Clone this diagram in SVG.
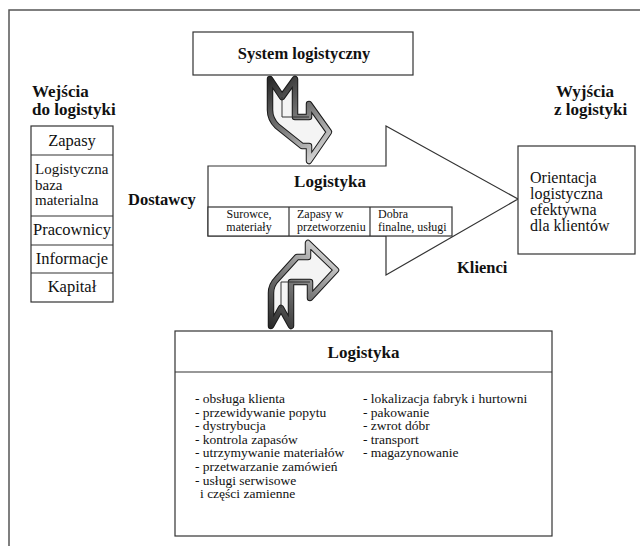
<svg xmlns="http://www.w3.org/2000/svg" width="640" height="546" viewBox="0 0 640 546" font-family="Liberation Serif, serif">
<defs>
<style>
.b{font-weight:bold}
.box{fill:#fff;stroke:#333;stroke-width:1.2}
.ln{fill:none;stroke:#333;stroke-width:1.2}
.frame{fill:none;stroke:#555;stroke-width:1.5}
.t17{font-size:17px}
.t16{font-size:16.5px}
.t16s{font-size:16px}
.t15{font-size:15px}
.t12{font-size:12px}
.t13{font-size:13.5px}
.mid{text-anchor:middle}
.ao{fill:none;stroke:#1a1a1a;stroke-width:6.5;stroke-linejoin:round}
.ai{fill:none;stroke-width:4.5;stroke-linejoin:round}
.inner{fill:none;stroke:#333;stroke-width:1}
</style>
<linearGradient id="g1" x1="270" y1="80" x2="330" y2="160" gradientUnits="userSpaceOnUse">
<stop offset="0" stop-color="#2a2a2a"/>
<stop offset="0.45" stop-color="#777"/>
<stop offset="1" stop-color="#e6e6e6"/>
</linearGradient>
<linearGradient id="g2" x1="270" y1="326" x2="336" y2="245" gradientUnits="userSpaceOnUse">
<stop offset="0" stop-color="#2a2a2a"/>
<stop offset="0.45" stop-color="#777"/>
<stop offset="1" stop-color="#e6e6e6"/>
</linearGradient>
<path id="upArrow" d="M270,79 L282,97 L295,79 L295,117 L309,117 L309,104 L329,132 L309,161 L309,146 L302,146 L277,126 Q270,119 270,110 Z"/>
<path id="loArrow" d="M271,326 L281,308 L291,326 L291,282 L310,282 L310,298 L336,270 L308,243 L308,257 L297,257 L277,279 Q271,285 271,293 Z"/>
</defs>

<path class="frame" d="M9,546 V10 H640"/>

<g fill="#111">
<g id="system">
<rect class="box" x="193" y="32" width="220" height="43"/>
<text class="b t16 mid" x="304" y="59" fill="#111">System logistyczny</text>
</g>

<g id="wejscia-label">
<text class="b t17" x="32" y="97">Wejścia</text>
<text class="b t17" x="32" y="115">do logistyki</text>
</g>

<g id="wyjscia-label">
<text class="b t17" x="556" y="97">Wyjścia</text>
<text class="b t17" x="554" y="115">z logistyki</text>
</g>

<g id="inputs">
<rect class="box" x="31" y="126" width="82" height="176"/>
<path class="ln" d="M31,155 H113 M31,216 H113 M31,245 H113 M31,273 H113"/>
<text class="t16 mid" x="72" y="146">Zapasy</text>
<text class="t15" x="35" y="174">Logistyczna</text>
<text class="t15" x="35" y="189.5">baza</text>
<text class="t15" x="35" y="205">materialna</text>
<text class="t16 mid" x="72" y="235">Pracownicy</text>
<text class="t16 mid" x="72" y="264">Informacje</text>
<text class="t16 mid" x="72" y="292">Kapitał</text>
</g>

<g id="dostawcy">
<text class="b t16" x="128" y="205">Dostawcy</text>
</g>

<g id="logistyka-arrow">
<path class="box" d="M208,166 H386 V126 L518,199 L386,275 V236 H208 Z"/>
<text class="b t17 mid" x="330" y="187">Logistyka</text>
<rect class="box" x="208" y="207" width="244" height="29"/>
<path class="ln" d="M289,207 V236 M370,207 V236"/>
<text class="t12 mid" x="249" y="218">Surowce,</text>
<text class="t12 mid" x="249" y="231">materiały</text>
<text class="t12" x="297" y="218">Zapasy w</text>
<text class="t12" x="297" y="231">przetworzeniu</text>
<text class="t12" x="378" y="218">Dobra</text>
<text class="t12" x="378" y="231">finalne, usługi</text>
</g>

<g id="klienci">
<text class="b t16" x="457" y="273">Klienci</text>
</g>

<g id="orientacja">
<rect class="box" x="518" y="146" width="117" height="108"/>
<text class="t16s" x="530" y="183">Orientacja</text>
<text class="t16s" x="530" y="199">logistyczna</text>
<text class="t16s" x="530" y="215">efektywna</text>
<text class="t16s" x="530" y="231">dla klientów</text>
</g>

<g id="connectors">
<g id="arrow-top">
<use href="#upArrow" fill="#f4f4f4"/>
<use href="#upArrow" class="ao"/>
<use href="#upArrow" class="ai" stroke="url(#g1)"/>
<path class="inner" d="M282,97 V117 H309"/>
</g>
<g id="arrow-bottom">
<use href="#loArrow" fill="#f4f4f4"/>
<use href="#loArrow" class="ao"/>
<use href="#loArrow" class="ai" stroke="url(#g2)"/>
<path class="inner" d="M281,308 V282 H310"/>
</g>
</g>

<g id="logistyka-box">
<rect class="box" x="175" y="331" width="377" height="205"/>
<path class="ln" d="M175,372 H552"/>
<text class="b t17 mid" x="363.5" y="358">Logistyka</text>
<g class="t13">
<text x="195" y="403">- obsługa klienta</text>
<text x="195" y="416.6">- przewidywanie popytu</text>
<text x="195" y="430.2">- dystrybucja</text>
<text x="195" y="443.8">- kontrola zapasów</text>
<text x="195" y="457.4">- utrzymywanie materiałów</text>
<text x="195" y="471">- przetwarzanie zamówień</text>
<text x="195" y="484.6">- usługi serwisowe</text>
<text x="200" y="498.2">i części zamienne</text>
<text x="363" y="403">- lokalizacja fabryk i hurtowni</text>
<text x="363" y="416.6">- pakowanie</text>
<text x="363" y="430.2">- zwrot dóbr</text>
<text x="363" y="443.8">- transport</text>
<text x="363" y="457.4">- magazynowanie</text>
</g>
</g>
</g>
</svg>
